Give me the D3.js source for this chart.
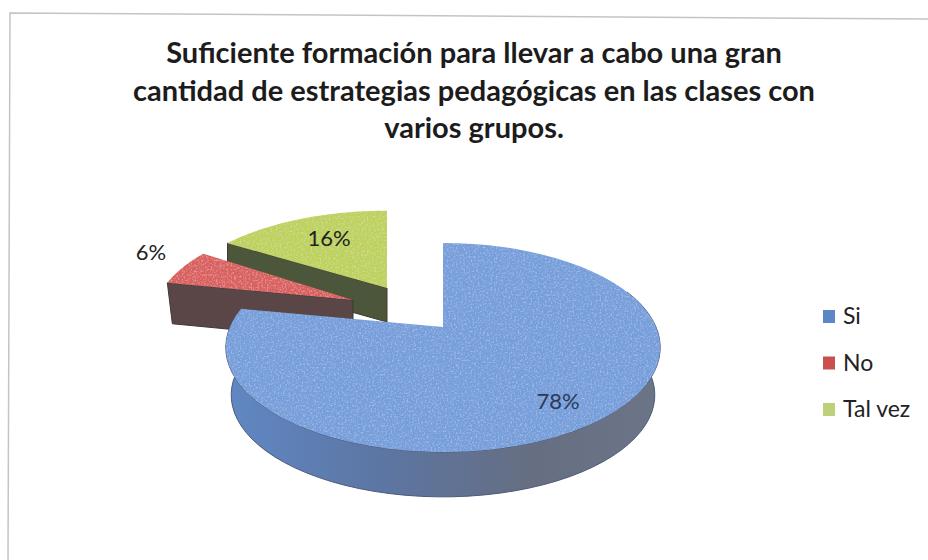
<!DOCTYPE html>
<html>
<head>
<meta charset="utf-8">
<script src="https://cdn.jsdelivr.net/npm/d3@7"></script>
<style>
  html, body { margin: 0; padding: 0; background: #fff; }
  text { font-family: Lato, "Open Sans", sans-serif; }
</style>
</head>
<body>
<svg id="chart" width="928" height="560"></svg>
<script>
const categories = ['Si', 'No', 'Tal vez'];
const shares = [78, 6, 16];
const title_lines = [
  'Suficiente formación para llevar a cabo una gran',
  'cantidad de estrategias pedagógicas en las clases con',
  'varios grupos.'
];

const width_chart = 928;
const height_chart = 560;
const radius = 213;
const tilt = 100.5;      // vertical size of the tilted disc
const persp = 0.196;     // far side looks smaller

// per slice: where the point of the slice lands, its squeeze and its thickness
const layout = [
  { cx: 443, cy: 327, sx: 1, sy: 1, depth: 48, from: 68 },
  { cx: 353, cy: 300, sx: 0.92, sy: 0.95, depth: 41 },
  { cx: 387, cy: 288, sx: 0.98, sy: 0.92, depth: 34 }
];
const top_colors = ['#749edb', '#d9615f', '#bdd15c'];
const wall_colors = ['#66738f', '#5a4646', '#4b563a'];
const legend_colors = ['#5b87c4', '#c9504f', '#bfd07a'];

const svg = d3.select('#chart');

// only the top and left edges of the frame survive in the scan, a bit skewed
svg.append('path')
  .attr('d', d3.line()([[8, height_chart], [10, 13], [width_chart, 19]]))
  .attr('fill', 'none')
  .attr('stroke', '#c4c4c4')
  .attr('stroke-width', 1.5);

const defs = svg.append('defs');
const side_gradient = defs.append('linearGradient').attr('id', 'side-blue');
side_gradient.append('stop').attr('offset', '0%').attr('stop-color', '#6088c4');
side_gradient.append('stop').attr('offset', '35%').attr('stop-color', '#5c76a4');
side_gradient.append('stop').attr('offset', '70%').attr('stop-color', '#666e82');
side_gradient.append('stop').attr('offset', '100%').attr('stop-color', '#6c7488');

// grainy scan look
const grain = defs.append('filter').attr('id', 'grain')
  .attr('x', '0%').attr('y', '0%').attr('width', '100%').attr('height', '100%');
grain.append('feTurbulence')
  .attr('type', 'fractalNoise').attr('baseFrequency', 0.55).attr('numOctaves', 2).attr('seed', 4)
  .attr('result', 'noise');
grain.append('feColorMatrix').attr('in', 'noise').attr('type', 'matrix')
  .attr('values', '0 0 0 0 1  0 0 0 0 1  0 0 0 0 1  0.7 0 0 0 -0.33')
  .attr('result', 'speck');
grain.append('feComposite').attr('in', 'speck').attr('in2', 'SourceAlpha').attr('operator', 'in').attr('result', 'cut');
grain.append('feMerge').call(m => {
  m.append('feMergeNode').attr('in', 'SourceGraphic');
  m.append('feMergeNode').attr('in', 'cut');
});

// Title
svg.append('g').selectAll('text')
  .data(title_lines)
  .enter()
  .append('text')
  .attr('x', 474)
  .attr('y', (d, i) => 63 + i * 37.5)
  .attr('text-anchor', 'middle')
  .attr('font-size', 29)
  .attr('font-weight', 700)
  .attr('fill', '#1c1c1c')
  .text(d => d);

// disc angle -> screen position for one slice
function project(angle, r, p, scale = 1, drop = 0) {
  const u = Math.sin(angle) * r;
  const v = Math.cos(angle) * r;
  const w = 1 + persp * v;
  return [
    p.cx + scale * p.sx * radius * u / w,
    p.cy + drop - scale * p.sy * tilt * v / w
  ];
}

function arcPoints(a0, a1, p, scale, drop) {
  return d3.range(0, 61).map(i => project(a0 + (a1 - a0) * i / 60, 1, p, scale, drop));
}

const pie = d3.pie().sort(null);
const arcs = pie(shares);
const line = d3.line();
const pies = svg.append('g').attr('id', 'pie');

// far slices first so the big one sits on top
[2, 1, 0].forEach(i => {
  const a = arcs[i];
  const p = layout[i];
  const g = pies.append('g');

  if (i === 0) {
    const start = p.from * Math.PI / 180;
    const upper = arcPoints(start, a.endAngle, p, 1, 0);
    const lower = arcPoints(start, a.endAngle, p, 0.975, p.depth);
    g.append('path')
      .attr('d', line(upper.concat(lower.reverse())) + 'Z')
      .attr('fill', 'url(#side-blue)')
      .attr('stroke', '#4d5a78')
      .attr('stroke-width', 1);
  } else {
    // straight wall facing the viewer, apex to the lower corner
    const corner = project(a.startAngle, 1, p);
    const apex = [p.cx, p.cy];
    g.append('path')
      .attr('d', line([apex, corner, [corner[0] + (i === 1 ? 5 : 0), corner[1] + p.depth], [apex[0], apex[1] + p.depth]]) + 'Z')
      .attr('fill', wall_colors[i])
      .attr('stroke', '#3d3a35')
      .attr('stroke-width', 1);
  }

  const face = [[p.cx, p.cy]].concat(arcPoints(a.startAngle, a.endAngle, p, 1, 0));
  g.append('path')
    .attr('d', line(face) + 'Z')
    .attr('fill', top_colors[i])
    .attr('filter', 'url(#grain)');
});

// Percent labels
const label_at = [[558, 409], [151, 260], [329, 246]];
svg.append('g').selectAll('text')
  .data(shares)
  .enter()
  .append('text')
  .attr('x', (d, i) => label_at[i][0])
  .attr('y', (d, i) => label_at[i][1])
  .attr('text-anchor', 'middle')
  .attr('font-size', 22)
  .attr('fill', (d, i) => i === 0 ? '#2b3a55' : '#222')
  .text(d => d + '%');

// Legend
const legend_y = d3.scalePoint().domain(categories).range([316.5, 409.5]);
const legend = svg.append('g').selectAll('g')
  .data(categories)
  .enter()
  .append('g')
  .attr('transform', d => `translate(823,${legend_y(d)})`);
legend.append('rect')
  .attr('x', 0).attr('y', -6.5)
  .attr('width', 12).attr('height', 13)
  .attr('fill', (d, i) => legend_colors[i]);
legend.append('text')
  .attr('x', 20).attr('y', 7.5)
  .attr('font-size', 23)
  .attr('fill', '#222')
  .text(d => d);
</script>
</body>
</html>
